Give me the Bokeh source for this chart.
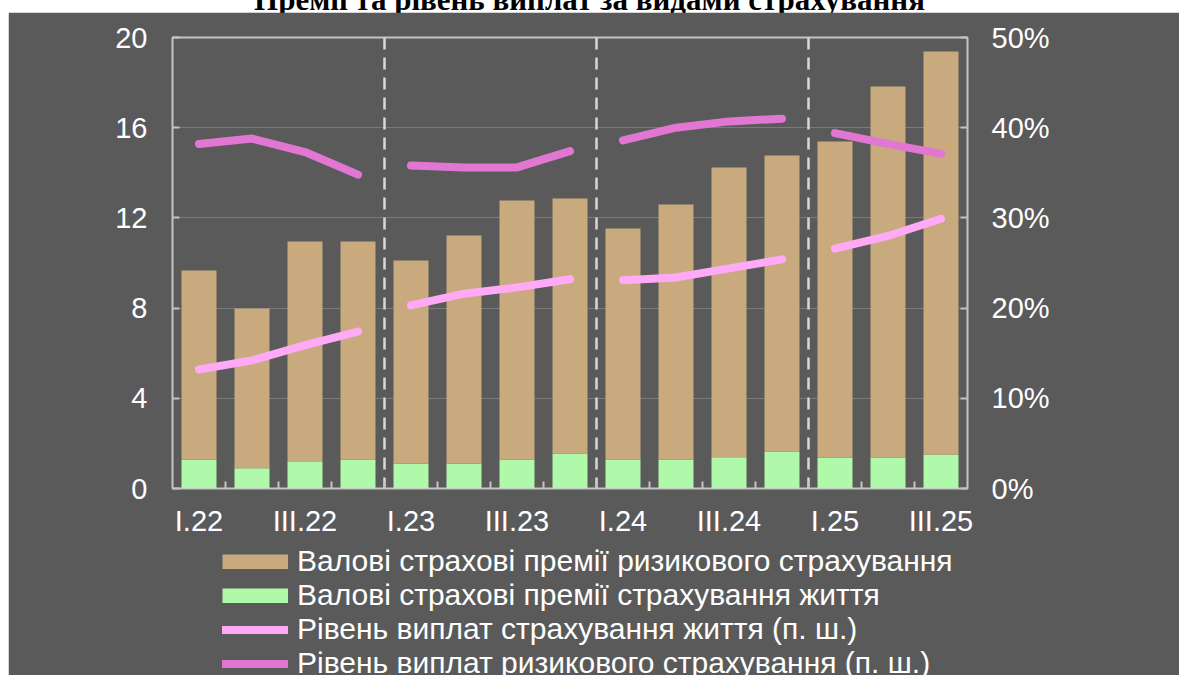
from bokeh.plotting import figure
from bokeh.models import (Range1d, LinearAxis, FixedTicker, PrintfTickFormatter,
                          Legend, LegendItem, Div, ColumnDataSource)
from bokeh.layouts import column
from bokeh.embed import file_html
from bokeh.resources import INLINE

# ---------------- data ----------------
title_text = "Премії та рівень виплат за видами страхування"
quarters = ["I.22", "II.22", "III.22", "IV.22",
            "I.23", "II.23", "III.23", "IV.23",
            "I.24", "II.24", "III.24", "IV.24",
            "I.25", "II.25", "III.25"]
life_premiums = [1.27, 0.90, 1.17, 1.27, 1.10, 1.10, 1.27, 1.55,
                 1.29, 1.29, 1.39, 1.64, 1.36, 1.36, 1.51]
risk_premiums = [8.40, 7.08, 9.78, 9.68, 9.01, 10.12, 11.50, 11.31,
                 10.24, 11.30, 12.84, 13.13, 14.03, 16.47, 17.87]
life_payout_rate = [13.2, 14.2, 15.9, 17.4, 20.3, 21.6, 22.3, 23.2,
                    23.1, 23.4, 24.4, 25.4, 26.6, 28.0, 29.9]
risk_payout_rate = [38.2, 38.8, 37.3, 34.8, 35.8, 35.6, 35.6, 37.4,
                    38.6, 40.0, 40.7, 41.0, 39.4, 38.2, 37.1]
left_ticks = [0, 4, 8, 12, 16, 20]
right_ticks = [0, 10, 20, 30, 40, 50]
labels = ["Валові страхові премії ризикового страхування",
          "Валові страхові премії страхування життя",
          "Рівень виплат страхування життя (п. ш.)",
          "Рівень виплат ризикового страхування (п. ш.)"]

# ---------------- style ----------------
BG = "#5a5a5a"
BROWN = "#c8aa7e"
GREEN = "#b0f8aa"
LPINK = "#ffaaf6"
DPINK = "#e277d3"
FRAME = "#c4c4c4"
GRID = "#7a7a7a"
TXT = "#ffffff"
FONT = "Liberation Sans"

n = len(quarters)
xs = list(range(n))
total = [a + b for a, b in zip(life_premiums, risk_premiums)]
src = ColumnDataSource(dict(x=xs, life=life_premiums, total=total))

p = figure(width=1171, height=533, output_backend="svg", toolbar_location=None,
           x_range=Range1d(-0.5, n - 0.5), y_range=Range1d(0, 20),
           min_border_left=164, min_border_right=212, min_border_top=25,
           min_border_bottom=57,
           background_fill_color=BG, border_fill_color=BG,
           outline_line_color=FRAME, outline_line_width=2, margin=(0, 0, 0, 8))
p.extra_y_ranges = {"pct": Range1d(0, 50)}

# grid
p.xgrid.visible = False
yt = FixedTicker(ticks=left_ticks)
p.ygrid.ticker = yt
p.ygrid.grid_line_color = GRID
p.ygrid.grid_line_width = 1

# left axis
ya = p.yaxis[0]
ya.ticker = yt
ya.axis_line_color = None
ya.major_tick_in = 7
ya.major_tick_out = 0
ya.major_tick_line_color = FRAME
ya.major_tick_line_width = 2
ya.minor_tick_line_color = None
ya.major_label_text_font = FONT
ya.major_label_text_font_size = "29px"
ya.major_label_text_color = TXT
ya.major_label_standoff = 25

# right axis
ra = LinearAxis(y_range_name="pct", ticker=FixedTicker(ticks=right_ticks),
                formatter=PrintfTickFormatter(format="%d%%"))
ra.axis_line_color = None
ra.major_tick_in = 7
ra.major_tick_out = 0
ra.major_tick_line_color = FRAME
ra.major_tick_line_width = 2
ra.minor_tick_line_color = None
ra.major_label_text_font = FONT
ra.major_label_text_font_size = "29px"
ra.major_label_text_color = TXT
ra.major_label_standoff = 24
p.add_layout(ra, "right")

# bottom axis
xa = p.xaxis[0]
label_idx = list(range(0, n, 2))
xa.ticker = FixedTicker(ticks=label_idx, minor_ticks=[i + 0.5 for i in range(n - 1)])
xa.major_label_overrides = {i: quarters[i] for i in label_idx}
xa.axis_line_color = None
xa.major_tick_line_color = None
xa.minor_tick_in = 7
xa.minor_tick_out = 0
xa.minor_tick_line_color = FRAME
xa.minor_tick_line_width = 2
xa.major_label_text_font = FONT
xa.major_label_text_font_size = "29px"
xa.major_label_text_color = TXT
xa.major_label_standoff = 10

# bars
p.vbar(x="x", bottom=0, top="life", width=0.66, source=src,
       fill_color=GREEN, line_color=None)
p.vbar(x="x", bottom="life", top="total", width=0.66, source=src,
       fill_color=BROWN, line_color=None)

# year separators
years = [q.split(".")[1] for q in quarters]
seps = [i - 0.5 for i in range(1, n) if years[i] != years[i - 1]]
p.segment(x0=seps, y0=[20] * len(seps), x1=seps, y1=[0] * len(seps),
          line_color="#d8d8d8", line_width=2.5, line_dash="12 8")

# lines per year
for yr in sorted(set(years), key=years.index):
    idx = [i for i in range(n) if years[i] == yr]
    p.line(idx, [life_payout_rate[i] for i in idx],
           y_range_name="pct", line_color=LPINK, line_width=8,
           line_cap="round", line_join="round")
    p.line(idx, [risk_payout_rate[i] for i in idx],
           y_range_name="pct", line_color=DPINK, line_width=8,
           line_cap="round", line_join="round")

# ---------------- legend (separate strip below) ----------------
lg = figure(width=1171, height=131, output_backend="svg", toolbar_location=None,
            x_axis_type=None, y_axis_type=None, x_range=Range1d(0, 1),
            y_range=Range1d(0, 1), min_border=0,
            background_fill_color=BG, border_fill_color=BG,
            outline_line_color=BG, outline_line_width=3, margin=(-1, 0, 0, 8))
# swatch renderers: series lying outside this strip's (0..1) range, so only
# their legend swatches are visible
g1 = lg.line(x=xs, y=total, line_color=BROWN, line_width=15, line_cap="butt")
g2 = lg.line(x=xs, y=total, line_color=GREEN, line_width=15, line_cap="butt")
g3 = lg.line(x=xs, y=life_payout_rate, line_color=LPINK, line_width=8,
             line_cap="round")
g4 = lg.line(x=xs, y=risk_payout_rate, line_color=DPINK, line_width=8,
             line_cap="round")

legend = Legend(items=[LegendItem(label=labels[0], renderers=[g1]),
                       LegendItem(label=labels[1], renderers=[g2]),
                       LegendItem(label=labels[2], renderers=[g3]),
                       LegendItem(label=labels[3], renderers=[g4])],
                location=(50, -5), glyph_width=66, glyph_height=15,
                label_height=33, label_standoff=9, spacing=0, padding=0, margin=0,
                label_text_font=FONT, label_text_font_size="30px",
                label_text_color=TXT, background_fill_alpha=0,
                border_line_color=None)
lg.add_layout(legend)

title = Div(text=title_text, width=1179, height=25, margin=(-13, 0, 0, 0),
            styles={"font-family": "'Liberation Serif', serif", "font-size": "31px",
                    "font-weight": "bold", "line-height": "25px",
                    "text-align": "center", "color": "#000000"})

layout = column(title, p, lg, spacing=0)
open("out.html", "w").write(file_html(layout, INLINE))
